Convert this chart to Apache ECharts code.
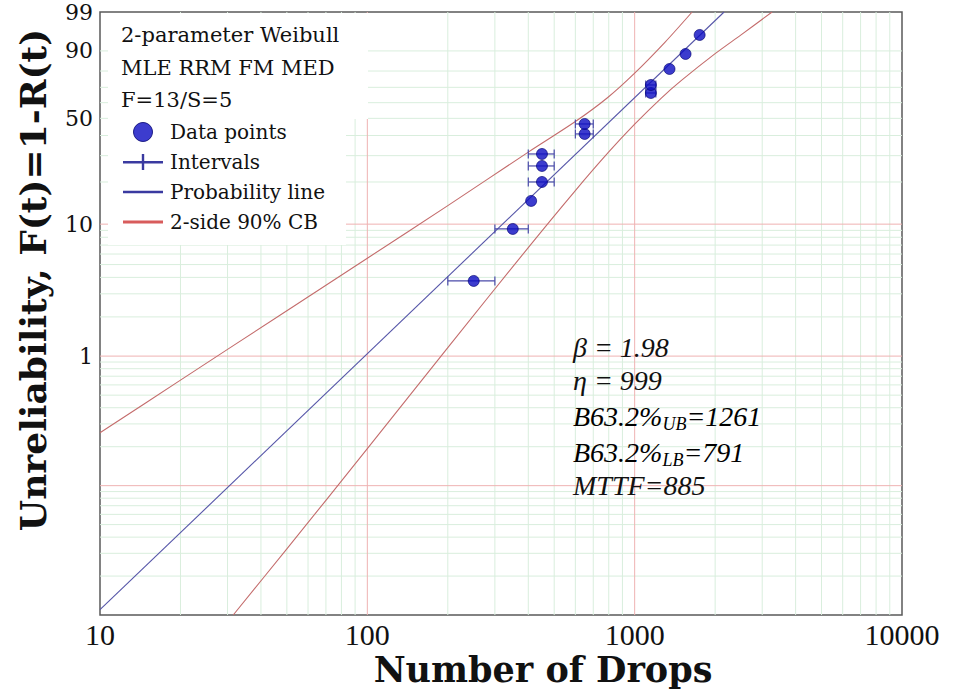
<!DOCTYPE html>
<html>
<head>
<meta charset="utf-8">
<script src="https://cdn.jsdelivr.net/npm/echarts@6/dist/echarts.min.js"></script>
<style>
  html, body { margin: 0; padding: 0; background: #ffffff; }
  #chart { width: 953px; height: 692px; }
</style>
</head>
<body>
<div id="chart"></div>
<script>
// ---- Weibull fit results ----
const beta = 1.98;
const eta = 999;
const b632Upper = 1261;
const b632Lower = 791;
const mttf = 885;

// ---- Failures: number of drops and median-rank unreliability (%) ----
const failDrops = [250, 350, 410, 450, 450, 450, 650, 650, 1150, 1150, 1350, 1550, 1750];
const failPct   = [3.76, 9.22, 14.73, 20.01, 25.69, 30.76, 40.84, 46.59, 66.35, 71.52, 81.17, 88.71, 95.31];

// ---- Inspection intervals of interval-censored failures ----
const intervalLow  = [200, 300, 400, 400, 400, 600, 600, 1100, 1100];
const intervalHigh = [300, 400, 500, 500, 500, 700, 700, 1200, 1200];
const intervalPct  = [3.76, 9.22, 20.01, 25.69, 30.76, 40.84, 46.59, 66.35, 71.52];

// ---- Probability line span (drops) ----
const lineDrops = [10, 2160];

// ---- 2-sided 90% confidence bounds ----
const upperDrops = [10, 20, 50, 100, 200, 400, 600, 791, 1000, 1300, 1640];
const upperPct   = [0.256, 0.653, 2.23, 5.58, 13.63, 31.62, 48.03, 63.2, 78.76, 93.25, 99];
const lowerDrops = [31.5, 50, 100, 200, 400, 600, 800, 1000, 1261, 1500, 2000, 2500, 3266];
const lowerPct   = [0.01, 0.0325, 0.193, 1.163, 6.705, 17.43, 31.67, 46.47, 63.2, 74.54, 88.84, 95.34, 99];

// ---- Axes: ticks and grid ----
const xRange = [10, 10000];
const yRange = [0.01, 99];
const xTickDrops = [10, 100, 1000, 10000];
const yTickPct = [1, 10, 50, 90, 99];
const xMajorGrid = [100, 1000];
const xMinorGrid = [20, 30, 40, 50, 60, 70, 80, 90, 200, 300, 400, 500, 600, 700, 800, 900,
                    2000, 3000, 4000, 5000, 6000, 7000, 8000, 9000];
const yMajorGrid = [0.1, 1, 10];
const yMinorGrid = [0.02, 0.03, 0.04, 0.05, 0.06, 0.07, 0.08, 0.09,
                    0.2, 0.3, 0.4, 0.5, 0.6, 0.7, 0.8, 0.9,
                    2, 3, 4, 5, 6, 7, 8, 9,
                    20, 30, 40, 50, 60, 70, 80, 90];

// Weibull probability paper: x = log10(drops), y = ln(-ln(1 - F))
const toX = t => Math.log10(t);
const toW = p => Math.log(-Math.log(1 - p / 100));
const weibullPct = t => 100 * (1 - Math.exp(-Math.pow(t / eta, beta)));

const xMin = toX(xRange[0]), xMax = toX(xRange[1]);
const yMin = toW(yRange[0]), yMax = toW(yRange[1]);

const gridItems = [
  ...xMinorGrid.map(t => [toX(t), 0, 0]),
  ...yMinorGrid.map(p => [toW(p), 1, 0]),
  ...xMajorGrid.map(t => [toX(t), 0, 1]),
  ...yMajorGrid.map(p => [toW(p), 1, 1])
];

const SERIF = '"Liberation Serif", "Times New Roman", serif';
const DSERIF = '"DejaVu Serif", serif';
const BLUE_PT = '#0b0bc2';
const BLUE_LN = '#5656a8';
const BLUE_LEG = '#3a3aa0';
const RED_LN = '#c46c6c';
const RED_LEG = '#d85c5c';

const subRich = {
  m: { fontFamily: SERIF, fontStyle: 'italic', fontSize: 28, color: '#111', verticalAlign: 'top', lineHeight: 30 },
  s: { fontFamily: SERIF, fontStyle: 'italic', fontSize: 18, color: '#111', verticalAlign: 'top', lineHeight: 20, padding: [13, 0, 0, 0] }
};

const chart = echarts.init(document.getElementById('chart'), null, { renderer: 'svg' });

chart.setOption({
  animation: false,
  backgroundColor: '#ffffff',
  grid: {
    left: 100, top: 12, right: 51, bottom: 77,
    show: true, borderColor: '#5a5a5a', borderWidth: 1.5, backgroundColor: 'transparent'
  },
  xAxis: {
    type: 'value', min: xMin, max: xMax, interval: 1,
    axisLine: { show: false }, axisTick: { show: false }, splitLine: { show: false },
    axisLabel: {
      customValues: xTickDrops.map(toX),
      showMinLabel: true, showMaxLabel: true,
      formatter: v => String(Math.round(Math.pow(10, v))),
      fontFamily: SERIF, fontSize: 30, lineHeight: 26, color: '#111', margin: 6
    }
  },
  yAxis: {
    type: 'value', min: yMin, max: yMax,
    axisLine: { show: false }, axisTick: { show: false }, splitLine: { show: false },
    axisLabel: {
      customValues: yTickPct.map(toW),
      showMinLabel: true, showMaxLabel: true,
      formatter: v => String(Math.round(100 * (1 - Math.exp(-Math.exp(v))))),
      fontFamily: DSERIF, fontSize: 22, color: '#111', margin: 7,
      padding: [12, 0, 0, 0]
    }
  },
  legend: {
    orient: 'vertical', left: 123, top: 122, padding: 0,
    itemWidth: 40, itemHeight: 19, itemGap: 10,
    selectedMode: false, z: 20,
    textStyle: { fontFamily: DSERIF, fontSize: 20, color: '#111', lineHeight: 20, padding: [0, 0, 0, 2] },
    data: [
      { name: 'Data points', icon: 'circle', itemStyle: { color: BLUE_PT, borderColor: '#00006e', borderWidth: 1 } },
      { name: 'Intervals', icon: 'path://M0,7H40V9.5H0Z M18.8,0H21.2V16H18.8Z', itemStyle: { color: BLUE_LEG, borderWidth: 0 } },
      { name: 'Probability line', icon: 'path://M0,0H40V2.5H0Z', itemStyle: { color: BLUE_LEG, borderWidth: 0 } },
      { name: '2-side 90% CB', icon: 'path://M0,0H40V3H0Z', itemStyle: { color: RED_LEG, borderWidth: 0 } }
    ]
  },
  graphic: [
    { type: 'rect', z: 5, silent: true, shape: { x: 108, y: 13, width: 260, height: 106 }, style: { fill: '#ffffff' } },
    { type: 'rect', z: 5, silent: true, shape: { x: 108, y: 118, width: 238, height: 127 }, style: { fill: '#ffffff' } },
    { type: 'text', z: 20, x: 121, y: 35, style: { text: '2-parameter Weibull', font: '21px ' + DSERIF, fill: '#111', verticalAlign: 'middle' } },
    { type: 'text', z: 20, x: 121, y: 68, style: { text: 'MLE RRM FM MED', font: '21px ' + DSERIF, fill: '#111', verticalAlign: 'middle' } },
    { type: 'text', z: 20, x: 121, y: 100, style: { text: 'F=' + failDrops.length + '/S=5', font: '21px ' + DSERIF, fill: '#111', verticalAlign: 'middle' } },
    { type: 'text', z: 20, x: 573, y: 347, style: { text: 'β = ' + beta.toFixed(2), font: 'italic 28px ' + SERIF, fill: '#111', verticalAlign: 'middle' } },
    { type: 'text', z: 20, x: 573, y: 380, style: { text: 'η = ' + eta, font: 'italic 28px ' + SERIF, fill: '#111', verticalAlign: 'middle' } },
    { type: 'text', z: 20, x: 573, y: 417, style: { text: '{m|B63.2%}{s|UB}{m|=' + b632Upper + '}', verticalAlign: 'middle', rich: subRich } },
    { type: 'text', z: 20, x: 573, y: 453, style: { text: '{m|B63.2%}{s|LB}{m|=' + b632Lower + '}', verticalAlign: 'middle', rich: subRich } },
    { type: 'text', z: 20, x: 573, y: 485, style: { text: 'MTTF=' + mttf, font: 'italic 28px ' + SERIF, fill: '#111', verticalAlign: 'middle' } },
    { type: 'text', z: 20, x: 543, y: 669, style: { text: 'Number of Drops', font: 'bold 35px ' + DSERIF, fill: '#111', align: 'center', verticalAlign: 'middle' } },
    { type: 'text', z: 20, x: 33, y: 280, rotation: Math.PI / 2, style: { text: 'Unreliability, F(t)=1-R(t)', font: 'bold 36px ' + DSERIF, fill: '#111', align: 'center', verticalAlign: 'middle' } }
  ],
  series: [
    {
      // probability-paper grid: green minor lines, red decade lines
      type: 'custom', silent: true, z: 1, clip: false,
      data: gridItems,
      renderItem: function (params, api) {
        const cs = params.coordSys;
        const v = api.value(0), horizontal = api.value(1) === 1, major = api.value(2) === 1;
        let shape;
        if (horizontal) {
          const py = api.coord([xMin, v])[1];
          shape = { x1: cs.x, y1: py, x2: cs.x + cs.width, y2: py };
        } else {
          const px = api.coord([v, yMin])[0];
          shape = { x1: px, y1: cs.y, x2: px, y2: cs.y + cs.height };
        }
        return { type: 'line', shape: shape, style: { stroke: major ? '#efb2b2' : '#d9eedd', lineWidth: 1 } };
      }
    },
    {
      name: '2-side 90% CB', type: 'line', z: 3, smooth: 0.3, showSymbol: false, silent: true,
      data: upperDrops.map((t, i) => [toX(t), toW(upperPct[i])]),
      lineStyle: { color: RED_LN, width: 1.1 }, itemStyle: { color: RED_LEG }
    },
    {
      name: '2-side 90% CB', type: 'line', z: 3, smooth: 0.3, showSymbol: false, silent: true,
      data: lowerDrops.map((t, i) => [toX(t), toW(lowerPct[i])]),
      lineStyle: { color: RED_LN, width: 1.1 }, itemStyle: { color: RED_LEG }
    },
    {
      name: 'Probability line', type: 'line', z: 3, showSymbol: false, silent: true,
      data: lineDrops.map(t => [toX(t), toW(weibullPct(t))]),
      lineStyle: { color: BLUE_LN, width: 1.1 }, itemStyle: { color: BLUE_LEG }
    },
    {
      name: 'Intervals', type: 'custom', z: 4, silent: true,
      itemStyle: { color: BLUE_LEG },
      encode: { x: [0, 1], y: 2 },
      data: intervalLow.map((lo, i) => [toX(lo), toX(intervalHigh[i]), toW(intervalPct[i])]),
      renderItem: function (params, api) {
        const a = api.coord([api.value(0), api.value(2)]);
        const b = api.coord([api.value(1), api.value(2)]);
        const h = 4.5;
        const st = { stroke: '#4a4aaa', lineWidth: 1.2 };
        return {
          type: 'group', children: [
            { type: 'line', shape: { x1: a[0], y1: a[1], x2: b[0], y2: b[1] }, style: st },
            { type: 'line', shape: { x1: a[0], y1: a[1] - h, x2: a[0], y2: a[1] + h }, style: st },
            { type: 'line', shape: { x1: b[0], y1: b[1] - h, x2: b[0], y2: b[1] + h }, style: st }
          ]
        };
      }
    },
    {
      name: 'Data points', type: 'scatter', z: 5, silent: true,
      symbol: 'circle', symbolSize: 11,
      itemStyle: { color: BLUE_PT, borderColor: '#00006e', borderWidth: 0.8 },
      data: failDrops.map((t, i) => [toX(t), toW(failPct[i])])
    }
  ]
});
</script>
</body>
</html>
